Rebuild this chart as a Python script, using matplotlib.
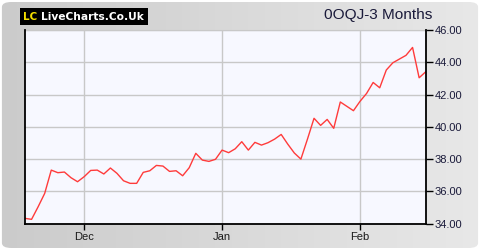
import numpy as np
import matplotlib
matplotlib.use("Agg")
import matplotlib.pyplot as plt
from matplotlib.patches import FancyBboxPatch, Rectangle

plt.rcParams['font.family'] = ['Liberation Sans', 'DejaVu Sans']

# closing prices, one per trading day
prices = [34.33, 34.27, 35.05, 35.88, 37.32, 37.16, 37.20, 36.85, 36.60, 36.91,
          37.30, 37.32, 37.08, 37.45, 37.12, 36.66, 36.50, 36.50, 37.18, 37.28,
          37.61, 37.57, 37.24, 37.28, 36.97, 37.47, 38.36, 37.94, 37.86, 37.99,
          38.56, 38.40, 38.64, 39.08, 38.56, 39.04, 38.87, 39.02, 39.24, 39.53,
          38.93, 38.38, 38.00, 39.24, 40.53, 40.09, 40.46, 39.91, 41.54, 41.27,
          41.00, 41.58, 42.07, 42.75, 42.42, 43.52, 43.97, 44.20, 44.43, 44.92,
          43.04, 43.41]
month_labels = ['Dec', 'Jan', 'Feb']
month_index = [9, 30, 51]   # first trading day of each month
y_ticks = [34, 36, 38, 40, 42, 44, 46]
title = '0OQJ-3 Months'

W, H = 480, 250
fig = plt.figure(figsize=(4.8, 2.5), dpi=100)
fig.patch.set_facecolor('white')

def fx(px):
    return px / W

def fy(py):
    return 1 - py / H

# grey rounded background with a soft left-to-right gradient
bg = fig.add_axes([0, 0, 1, 1])
bg.set_xlim(0, 1)
bg.set_ylim(0, 1)
bg.axis('off')
grad = np.linspace(0, 1, 256).reshape(1, -1)
cmap = matplotlib.colors.LinearSegmentedColormap.from_list('g', ['#cbcbcb', '#e8e8e8'])
img = bg.imshow(grad, extent=[0, 1, 0, 1], aspect='auto', cmap=cmap)
frame = FancyBboxPatch((0.004, 0.008), 0.992, 0.984,
                       boxstyle='round,pad=0,rounding_size=0.02',
                       transform=bg.transAxes, facecolor='none', edgecolor='none')
bg.add_patch(frame)
img.set_clip_path(frame)

renderer = fig.canvas.get_renderer()

def fit_text(t, width_px):
    # shrink/grow the font so the text covers the wanted width
    w = t.get_window_extent(renderer).width
    t.set_fontsize(t.get_fontsize() * width_px / w)

# logo
fig.patches.append(Rectangle((fx(20), fy(25)), 128 / W, 17 / H,
                             transform=fig.transFigure, facecolor='black', edgecolor='none'))
lc = fig.text(fx(23), fy(16.5), 'LC', color='#f5e000', fontsize=8,
              fontweight='bold', va='center', ha='left', family=['DejaVu Sans'])
fit_text(lc, 14)
logo = fig.text(fx(41.5), fy(16.5), 'LiveCharts.Co.Uk', color='white', fontsize=8,
                fontweight='bold', va='center', ha='left', family=['DejaVu Sans'])
fit_text(logo, 103)

tt = fig.text(fx(378), fy(15.5), title, color='#1a1a3a', fontsize=11,
              ha='center', va='center')
fit_text(tt, 108)

ax = fig.add_axes([fx(25), 1 - 223.7 / H, 400.7 / W, 193.7 / H])
ax.set_facecolor('#f7f8ff')
x = np.arange(len(prices))
ax.plot(x, prices, color='#ff3b3b', lw=1.0)

ax.set_xlim(0, len(prices) - 1)
ax.set_ylim(34, 46)
ax.set_xticks(month_index)
ax.set_xticklabels(month_labels)
ax.set_yticks(y_ticks)
ax.set_yticklabels(['%.2f' % v for v in y_ticks])
ax.yaxis.tick_right()
ax.tick_params(axis='y', length=5, width=1, pad=1.5, labelsize=8, labelcolor='#1a1a3a')
ax.tick_params(axis='x', length=4, width=1, pad=2, labelsize=8, labelcolor='#1a1a1a')
ax.grid(True, color='#c8c8c8', lw=1)
ax.set_axisbelow(True)
for s in ['left', 'bottom', 'right']:
    ax.spines[s].set_color('black')
    ax.spines[s].set_linewidth(1.3)
    ax.spines[s].set_zorder(5)
ax.spines['top'].set_color('#c8c8c8')
ax.spines['top'].set_linewidth(0.8)

fig.savefig('out.png', dpi=100)
